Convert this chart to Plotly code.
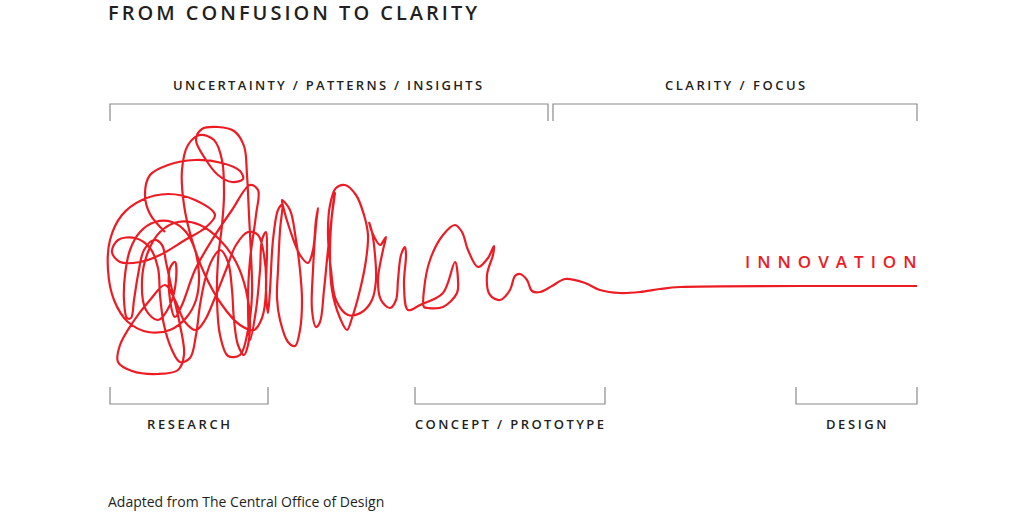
import json
import plotly.graph_objects as go

# ---- data: squiggle (progress on x, spread on y) ----
squiggle_x = [
    165, 150, 145, 150, 168, 195, 222, 240, 243, 232, 218, 206, 196, 202, 218, 234, 244, 247, 249, 251,
    252, 248, 240, 228, 220, 217, 218, 222, 224, 222, 214, 200, 188, 182, 184, 192, 205, 222, 240, 254,
    262, 266, 264, 258, 248, 236, 226, 214, 205, 196, 185,
    175, 165, 150, 133, 120, 118, 132, 158, 178, 184, 180, 172, 166, 162, 154, 144, 138, 134, 131,
    127, 124, 125, 130, 140, 155, 172, 186, 195, 199, 196, 186, 170, 148, 128, 114, 108, 110, 122, 142,
    168, 195, 215,
    205, 185, 160, 140, 120, 112, 118, 135, 150, 158, 160, 164, 172, 180, 190, 196, 200, 205, 212, 220,
    228, 232, 234, 238, 244,
    248, 250, 246, 236, 220, 200, 178, 160, 148, 142, 146, 158, 170, 176, 175, 170, 170, 175, 182, 195,
    212, 232, 250, 258, 256, 250, 248,
    250, 256, 260, 262, 266, 267, 266, 268, 270, 273, 278, 282, 280, 278, 277, 280, 288, 295, 300, 302,
    300, 296, 290, 282, 283, 290, 300, 308, 313, 316, 318, 316, 313, 312, 316, 320, 324, 328, 332, 335,
    333, 330, 332, 340, 347, 352, 360, 366, 368, 364, 356, 345, 336, 330, 328, 331, 336, 348, 362, 372,
    376, 375, 372, 369, 372, 380, 384, 386, 383, 378, 381, 390, 396, 398, 401, 405, 406, 404, 408, 420,
    443, 455, 458, 457, 443, 428, 424, 424, 430, 443, 455, 462, 468, 478, 488, 494, 493, 487, 490, 500,
    510, 515, 520, 527, 532, 540, 552, 565, 585, 600, 620, 640, 660, 680, 800, 917,
]
squiggle_y = [
    232, 214, 195, 175, 165, 160, 163, 171, 179, 182, 175, 160, 140, 129, 127, 131, 146, 175, 215, 255,
    295, 330, 355, 356, 335, 300, 260, 225, 195, 160, 140, 135, 145, 170, 205, 240, 275, 305, 325, 330,
    318, 290, 255, 235, 232, 245, 270, 300, 320, 330, 322,
    300, 285, 300, 322, 345, 362, 371, 374, 370, 355, 325, 290, 262, 245, 240, 250, 275, 300, 318,
    318, 300, 275, 250, 232, 222, 222, 232, 250, 275, 300, 318, 330, 332, 322, 300, 270, 240, 215, 200,
    194, 200, 215,
    228, 240, 255, 262, 262, 252, 240, 238, 248, 268, 295, 325, 350, 362, 358, 335, 305, 280, 260, 250,
    262, 290, 320, 345, 355,
    345, 320, 290, 262, 240, 225, 222, 232, 252, 280, 310, 320, 305, 280, 262, 268, 300, 317, 305, 270,
    240, 210, 185, 190, 215, 260, 300,
    340, 310, 270, 240, 232, 250, 290, 313, 290, 240, 210, 205, 230, 270, 298, 320, 342, 346, 330, 300,
    270, 240, 210, 200, 206, 230, 255, 263, 250, 220, 208, 225, 270, 310, 327, 322, 290, 250, 215, 193,
    205, 250, 290, 318, 330, 318, 290, 260, 235, 215, 195, 185, 188, 205, 235, 270, 300, 315, 312, 300,
    280, 255, 232, 222, 232, 245, 240, 237, 250, 280, 300, 308, 300, 280, 255, 247, 255, 285, 310, 305,
    293, 262, 280, 293, 307, 308, 307, 290, 260, 235, 225, 232, 250, 267, 258, 246, 255, 275, 295, 300,
    290, 276, 274, 280, 291, 292, 286, 279, 283, 290, 293, 292, 289, 287, 286, 286, 286,
]

# ---- labels ----
title_text = "FROM CONFUSION TO CLARITY"
top_labels = ["UNCERTAINTY / PATTERNS / INSIGHTS", "CLARITY / FOCUS"]
top_start = [110, 553]
top_end = [548, 917]
top_label_x = [173, 665]

phase_labels = ["RESEARCH", "CONCEPT / PROTOTYPE", "DESIGN"]
phase_start = [110, 415, 796]
phase_end = [268, 605, 917]
phase_label_x = [147, 415, 826]

end_label = "INNOVATION"
source_text = "Adapted from The Central Office of Design"

RED = "#ed1c24"
DARK = "#231f20"
GRAY = "#8a8a8a"
FONT = "Open Sans"
PAD = -2  # compensates for the annotation box padding

fig = go.Figure()
fig.add_trace(go.Scatter(
    x=squiggle_x, y=squiggle_y, mode="lines",
    line=dict(color=RED, width=2.2, shape="spline", smoothing=1.0),
    hoverinfo="skip", showlegend=False,
))

shapes = []
for s, e in zip(top_start, top_end):
    shapes.append(dict(type="path", path=f"M {s} 121 L {s} 104 L {e} 104 L {e} 121",
                       line=dict(color=GRAY, width=1.2)))
for s, e in zip(phase_start, phase_end):
    shapes.append(dict(type="path", path=f"M {s} 387 L {s} 404 L {e} 404 L {e} 387",
                       line=dict(color=GRAY, width=1.2)))

ann = []
ann.append(dict(x=108, y=12, text=title_text, xanchor="left", yanchor="middle", showarrow=False,
                xshift=PAD, font=dict(family=FONT, size=20, color=DARK, weight=600)))
for t, x in zip(top_labels, top_label_x):
    ann.append(dict(x=x, y=85, text=t, xanchor="left", yanchor="middle", showarrow=False,
                    xshift=PAD, font=dict(family=FONT, size=13, color=DARK, weight=600)))
for t, x in zip(phase_labels, phase_label_x):
    ann.append(dict(x=x, y=424, text=t, xanchor="left", yanchor="middle", showarrow=False,
                    xshift=PAD, font=dict(family=FONT, size=13, color=DARK, weight=600)))
ann.append(dict(x=745, y=261, text=end_label, xanchor="left", yanchor="middle", showarrow=False,
                xshift=PAD, font=dict(family=FONT, size=17, color=RED, weight=600)))
ann.append(dict(x=108, y=501, text=source_text, xanchor="left", yanchor="middle", showarrow=False,
                xshift=PAD, font=dict(family=FONT, size=14, color=DARK)))

fig.update_layout(
    width=1024, height=512, margin=dict(l=0, r=0, t=0, b=0),
    paper_bgcolor="white", plot_bgcolor="white",
    xaxis=dict(range=[0, 1024], visible=False, fixedrange=True),
    yaxis=dict(range=[512, 0], visible=False, fixedrange=True),
    shapes=shapes, annotations=ann, showlegend=False,
)

spacing = {
    title_text: 3.0,
    top_labels[0]: 2.3,
    top_labels[1]: 2.5,
    phase_labels[0]: 2.6,
    phase_labels[1]: 2.4,
    phase_labels[2]: 2.6,
    end_label: 7.0,
}
post = """
document.body.style.margin = '0';
var sp = %s;
document.querySelectorAll('.annotation-text').forEach(function(t){
  var s = sp[t.textContent];
  if (s === undefined) { return; }
  t.style.letterSpacing = s + 'px';
  var d = s * t.textContent.length / 2;
  var nodes = [t].concat(Array.prototype.slice.call(t.querySelectorAll('tspan')));
  nodes.forEach(function(n){
    var x = n.getAttribute('x');
    if (x !== null && x !== '') { n.setAttribute('x', parseFloat(x) + d); }
  });
});
""" % json.dumps(spacing)

fig.write_html("out.html", config={"displayModeBar": False, "staticPlot": True}, post_script=post)
